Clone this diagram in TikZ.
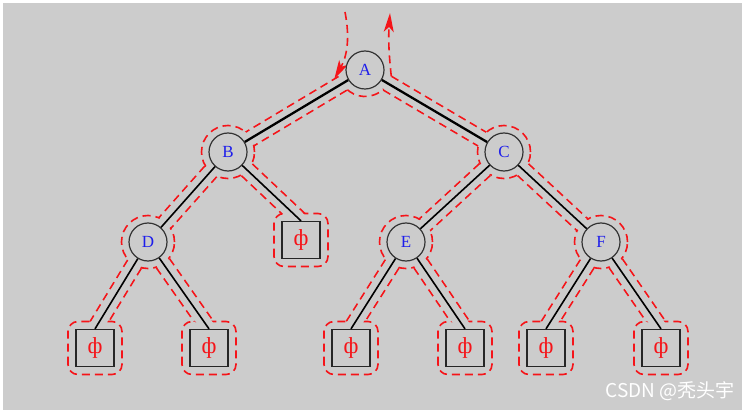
\documentclass[tikz,border=0pt]{standalone}
\usepackage{fontspec}
\setmainfont{Liberation Serif}
\newfontfamily\cjkfont{Noto Sans CJK SC}
\usetikzlibrary{arrows.meta, calc}
\definecolor{bggray}{RGB}{204,204,204}
\definecolor{nodeblue}{RGB}{30,30,235}
\definecolor{pathred}{RGB}{245,20,25}
\pgfdeclarelayer{back}
\pgfsetlayers{back,main}

\begin{document}
\begin{tikzpicture}[
    x=1pt, y=1pt, >=latex,
    vertex/.style={circle, draw=black!80, line width=1.2pt, fill=bggray, minimum size=38pt, inner sep=0pt, text=nodeblue, font=\fontsize{17}{17}\selectfont},
    nullbox/.style={rectangle, draw=black!85, line width=1.3pt, fill=bggray, minimum width=38pt, minimum height=37pt, inner sep=0pt, text=pathred, font=\fontsize{23}{23}\selectfont},
    link/.style={line width=1.6pt},
    toplink/.style={line width=2.3pt},
    contour/.style={draw=pathred, line width=1.6pt, dash pattern=on 8pt off 5pt},
    halo/.style={contour, fill=bggray},
    tube/.style={draw=bggray, line width=13.5pt},
    tip/.style={-{Stealth[length=19pt, width=10pt, inset=5pt]}}
]
% ---- inner nodes ----
\foreach \n/\x/\y in {A/365/340, B/228/258, C/504/258, D/148/168, E/406/168, F/601/168}
    \node[vertex] (n\n) at (\x,\y) {\n};
% ---- empty subtrees ----
\foreach \n/\x/\y in {P/301/170, D1/95/62, D2/209/62, E1/351/62, E2/465/62, F1/546/62, F2/661/62}
    \node[nullbox] (n\n) at (\x,\y) {ф};

% ---- tree edges ----
\draw[toplink] (nA) -- (nB);
\draw[toplink] (nA) -- (nC);
\foreach \u/\v in {B/D, C/E, C/F}
    \draw[link] (n\u) -- (n\v);
\foreach \u/\v in {B/P, D/D1, D/D2, E/E1, E/E2, F/F1, F/F2}
    \draw[link] (n\u) -- (n\v.north);

\node[font=\cjkfont\fontsize{19}{19}\selectfont, text=white] (mark) at (670,19) {CSDN @秃头宇};

\begin{pgfonlayer}{back}
% ---- background ----
\fill[white] (0,0) rectangle (751,410);
\fill[bggray] (3,0) rectangle (742,407);

% ---- traversal contour: lines on both sides of each edge ----
\foreach \u/\v in {nA/nB, nA/nC, nB/nD, nC/nE, nC/nF, nB/nP.north, nD/nD1.north, nD/nD2.north, nE/nE1.north, nE/nE2.north, nF/nF1.north, nF/nF2.north} {
    \draw[contour] ($(\u)!8pt!90:(\v)$) -- ($(\v)!8pt!-90:(\u)$);
    \draw[contour] ($(\u)!8pt!-90:(\v)$) -- ($(\v)!8pt!90:(\u)$);
}
% halos round the nodes
\foreach \n in {B, C, D, E, F}
    \draw[halo] (n\n) circle[radius=26.5pt];
\foreach \n in {P, D1, D2, E1, E2, F1, F2}
    \draw[halo, rounded corners=10pt] ($(n\n)+(-27,-26.5)$) rectangle ($(n\n)+(27,26.5)$);
\fill[bggray] (nA) circle[radius=26.5pt];
\draw[contour] ($(nA)+(200:26.5pt)$) arc[start angle=200, end angle=340, radius=26.5pt];
% open the halos where the edges pass
\foreach \u/\v in {nA/nB, nA/nC, nB/nD, nC/nE, nC/nF, nB/nP.north, nD/nD1.north, nD/nD2.north, nE/nE1.north, nE/nE2.north, nF/nF1.north, nF/nF2.north}
    \draw[tube] (\u) -- (\v);

% in and out at the root
\coordinate (inTop) at (345,398);
\coordinate (outTop) at (390,397);
\draw[contour, tip] (inTop) to[bend left=20] ($(nA)!32pt!-14.5:(nB)$);
\draw[contour, tip] ($(nA)!27pt!17.2:(nC)$) to[bend left=5] (outTop);
\end{pgfonlayer}
\end{tikzpicture}
\end{document}
